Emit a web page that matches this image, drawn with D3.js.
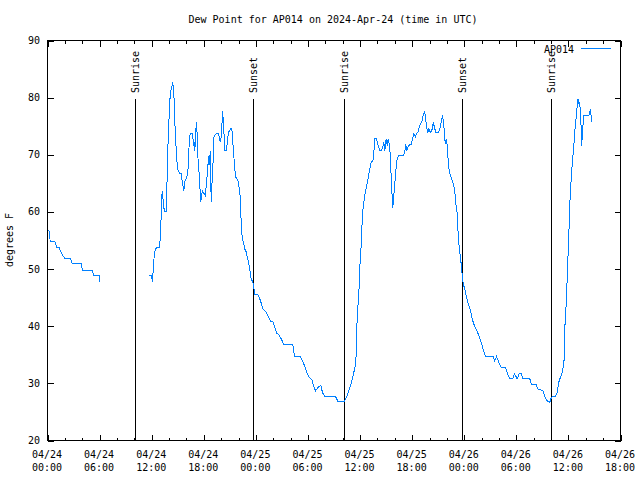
<!DOCTYPE html>
<html><head><meta charset="utf-8">
<script src="https://cdn.jsdelivr.net/npm/d3@7/dist/d3.min.js"></script>
<style>body{margin:0;background:#fff}svg{display:block}text{font-family:"DejaVu Sans Mono",monospace;font-size:10px;fill:#000}</style>
</head><body>
<script>
// Hours since 2024-04-24 00:00 UTC; null marks the data gap
const hours = [0.05,0.15,0.26,0.30,0.84,1.0,1.12,1.35,1.58,1.81,2.07,2.65,2.88,3.88,4.03,5.15,5.33,5.95,6.02,
 9.0,
 11.67,11.98,12.09,12.24,12.36,12.52,12.90,13.02,13.13,13.21,13.28,13.40,13.48,13.67,13.74,13.82,13.94,14.09,14.20,14.36,14.43,14.51,14.59,14.63,14.74,14.82,14.94,15.05,15.20,15.40,15.51,15.70,15.81,15.98,16.13,16.24,16.32,16.44,16.67,16.78,16.85,16.93,16.97,17.08,17.16,17.24,17.31,17.47,17.54,17.66,17.74,17.85,18.00,18.16,18.23,18.31,18.43,18.54,18.62,18.69,18.77,18.81,18.92,18.95,19.04,19.12,19.16,19.32,19.47,19.66,19.78,19.89,20.01,20.12,20.19,20.27,20.39,20.42,20.62,20.73,20.85,20.93,21.08,21.23,21.31,21.39,21.50,21.62,21.73,21.92,22.03,22.15,22.23,22.31,22.43,22.58,22.72,22.89,23.00,23.15,23.27,23.35,23.46,23.65,23.76,23.88,24.22,24.45,24.65,24.84,25.14,25.37,25.69,26.00,26.18,26.38,26.64,26.92,27.22,28.25,28.45,29.14,29.34,29.60,29.83,30.10,30.44,30.60,30.87,31.18,31.48,31.67,31.94,33.17,33.44,34.21,34.44,34.70,35.01,35.28,35.51,35.59,35.67,35.86,35.97,36.17,36.25,36.36,36.51,36.63,36.74,36.89,37.01,37.17,37.28,37.47,37.58,37.70,37.89,38.04,38.27,38.47,38.62,38.73,38.85,39.01,39.13,39.24,39.36,39.47,39.59,39.70,39.77,39.89,40.00,40.12,40.28,40.46,41.04,41.20,41.27,41.38,41.55,41.70,41.89,42.04,42.19,42.39,42.50,42.65,42.81,42.96,43.16,43.27,43.42,43.54,43.65,43.80,43.92,44.11,44.31,44.43,44.57,44.73,45.00,45.19,45.35,45.50,45.61,45.73,45.81,45.92,46.04,46.15,46.27,46.42,46.61,46.76,46.91,47.03,47.19,47.26,47.34,47.45,47.57,47.68,47.80,47.95,48.11,48.26,48.41,48.61,48.76,48.92,49.10,49.30,49.49,49.68,49.87,50.07,50.25,50.45,51.34,51.49,51.72,51.98,52.26,52.75,52.98,53.25,53.59,53.79,54.10,54.33,54.56,54.75,55.55,55.75,56.29,56.52,57.05,57.25,57.47,57.86,58.05,58.51,58.71,58.89,59.09,59.24,59.40,59.49,59.61,59.77,59.89,60.04,60.16,60.31,60.47,60.62,60.73,60.85,60.93,61.04,61.11,61.23,61.31,61.39,61.47,61.54,61.62,61.70,61.77,62.35,62.46,62.53,62.61,62.69];
const dewF = [56.8,56.8,56.2,54.8,54.8,54.1,53.7,53.7,52.9,52.2,51.8,51.8,50.9,50.9,49.8,49.8,48.9,48.9,47.7,
 null,
 48.9,48.9,47.8,51.5,53.0,53.7,53.7,56.2,61.1,63.7,62.6,60.8,60.0,60.0,63.2,69.6,74.2,79.5,81.2,82.1,82.8,81.2,79.5,76.9,73.4,71.0,68.2,67.2,66.8,66.8,65.3,63.7,65.3,65.9,66.5,68.6,72.2,73.8,73.8,72.5,71.5,72.2,70.6,74.2,75.7,73.5,69.9,66.7,64.6,61.8,62.9,63.7,63.3,62.9,64.0,64.6,67.5,69.0,69.9,68.2,70.7,64.0,61.8,65.2,67.7,70.4,73.1,73.5,73.8,73.8,73.1,72.3,73.1,76.0,77.7,74.5,72.8,70.7,70.7,72.8,73.8,74.2,74.5,74.7,73.1,71.3,69.0,66.8,65.9,65.7,64.6,63.4,61.7,57.9,55.4,54.7,53.5,53.0,52.1,51.2,50.3,49.3,48.3,47.7,46.8,45.6,45.5,44.8,43.9,42.9,42.6,41.9,40.9,40.7,39.8,38.8,38.5,37.8,36.8,36.8,34.7,34.7,34.0,33.1,32.1,31.1,30.7,29.8,28.7,29.3,29.7,28.4,27.7,27.7,26.9,26.9,27.6,28.7,30.2,31.9,33.4,37.2,41.6,45.6,50.3,55.0,58.8,60.8,62.6,63.7,64.3,65.5,66.7,67.8,68.8,68.8,70.2,72.8,72.8,71.9,70.7,70.7,71.3,72.2,70.7,72.8,71.6,72.8,71.9,70.2,66.1,62.6,60.7,62.9,64.9,67.2,69.3,69.9,69.9,71.0,71.9,70.7,71.4,71.8,71.8,72.8,73.7,73.1,73.7,73.9,74.8,75.4,76.0,76.9,77.6,76.6,75.1,73.9,74.5,73.9,74.5,75.7,74.8,73.9,73.9,74.5,75.7,76.9,75.7,73.7,71.9,72.8,71.6,69.0,67.2,66.4,65.5,64.9,63.7,61.4,59.7,57.3,55.0,53.5,51.8,50.6,48.3,47.1,46.2,45.1,44.2,43.3,42.4,41.3,40.4,39.7,39.1,38.4,37.5,36.6,35.6,34.7,34.7,33.9,34.7,33.7,32.8,32.8,31.7,30.8,30.8,31.7,30.8,31.7,31.7,30.8,30.8,29.8,29.8,28.9,28.8,27.9,27.0,26.7,27.6,27.7,28.4,30.2,31.1,31.7,32.8,33.8,40.4,44.5,49.7,55.6,61.4,65.5,69.0,71.3,74.2,75.7,77.2,78.9,79.8,78.9,79.2,76.6,74.8,71.6,74.2,75.4,76.9,76.9,77.5,77.7,76.9,75.7];

const sunLabels = ["Sunrise","Sunset","Sunrise","Sunset","Sunrise"];
const sunHours = [10.13,23.73,34.21,47.80,58.05];
const yTicks = [20,30,40,50,60,70,80,90];
const seriesName = "AP014";
const titleText = "Dew Point for AP014 on 2024-Apr-24 (time in UTC)";
const yLabel = "degrees F";

const t0 = Date.UTC(2024,3,24);
const toDate = h => new Date(t0 + h*3600e3);
const data = hours.map((h,i)=>({t:toDate(h), v:dewF[i]}));

const W=640,H=480, L=47,R=620,T=40,B=440;
const svg = d3.select("body").append("svg").attr("width",W).attr("height",H);
const g = svg.append("g").attr("transform","translate(0.5,0.5)");

const x = d3.scaleUtc().domain([toDate(0), toDate(66)]).range([L,R]);
const y = d3.scaleLinear().domain([20,90]).range([B,T]);

const majorTicks = d3.range(0,67,6).map(toDate);
const minorTicks = d3.range(0,67,2).filter(h=>h%6!==0).map(toDate);

const fmtD = d3.utcFormat("%m/%d"), fmtT = d3.utcFormat("%H:%M");
const xAxisB = d3.axisBottom(x).tickValues(majorTicks).tickSize(-6).tickFormat("");
const xAxisT = d3.axisTop(x).tickValues(majorTicks).tickSize(-6).tickFormat("");
const xMinB = d3.axisBottom(x).tickValues(minorTicks).tickSize(-3).tickFormat("");
const xMinT = d3.axisTop(x).tickValues(minorTicks).tickSize(-3).tickFormat("");
const yAxisL = d3.axisLeft(y).tickValues(yTicks).tickSize(-6).tickFormat("");
const yAxisR = d3.axisRight(y).tickValues(yTicks).tickSize(-6).tickFormat("");

function styleAxis(sel){ sel.select(".domain").remove(); sel.selectAll("line").attr("stroke","#000").attr("shape-rendering","crispEdges"); }
g.append("g").attr("transform",`translate(0,${B})`).call(xAxisB).call(styleAxis);
g.append("g").attr("transform",`translate(0,${T})`).call(xAxisT).call(styleAxis);
g.append("g").attr("transform",`translate(0,${B})`).call(xMinB).call(styleAxis);
g.append("g").attr("transform",`translate(0,${T})`).call(xMinT).call(styleAxis);
g.append("g").attr("transform",`translate(${L},0)`).call(yAxisL).call(styleAxis);
g.append("g").attr("transform",`translate(${R},0)`).call(yAxisR).call(styleAxis);

g.append("rect").attr("x",L).attr("y",T).attr("width",R-L).attr("height",B-T)
 .attr("fill","none").attr("stroke","#000").attr("shape-rendering","crispEdges");

const lab = svg.append("g");
majorTicks.forEach(d=>{
  lab.append("text").attr("x",x(d)).attr("y",458).attr("text-anchor","middle").text(fmtD(d));
  lab.append("text").attr("x",x(d)).attr("y",471).attr("text-anchor","middle").text(fmtT(d));
});
yTicks.forEach(v=>{
  lab.append("text").attr("x",40).attr("y",y(v)+4).attr("text-anchor","end").text(v);
});
svg.append("text").attr("x",333).attr("y",23).attr("text-anchor","middle").text(titleText);
svg.append("text").attr("transform",`translate(13,240) rotate(-90)`).attr("text-anchor","middle").text(yLabel);

sunHours.forEach((h,i)=>{
  const xx = Math.round(x(toDate(h)));
  g.append("line").attr("x1",xx).attr("x2",xx).attr("y1",98).attr("y2",B).attr("stroke","#000").attr("shape-rendering","crispEdges");
  svg.append("text").attr("transform",`translate(${xx+4},93) rotate(-90)`).attr("text-anchor","start").text(sunLabels[i]);
});

const line = d3.line().defined(d=>d.v!==null).x(d=>x(d.t)).y(d=>y(d.v)).curve(d3.curveLinear);
g.append("path").datum(data).attr("d",line).attr("fill","none").attr("stroke","#0080ff").attr("stroke-width",1).attr("shape-rendering","crispEdges");

svg.append("text").attr("x",574).attr("y",53).attr("text-anchor","end").text(seriesName);
g.append("line").attr("x1",580).attr("x2",610).attr("y1",48).attr("y2",48).attr("stroke","#0080ff").attr("shape-rendering","crispEdges");
</script>
</body></html>
